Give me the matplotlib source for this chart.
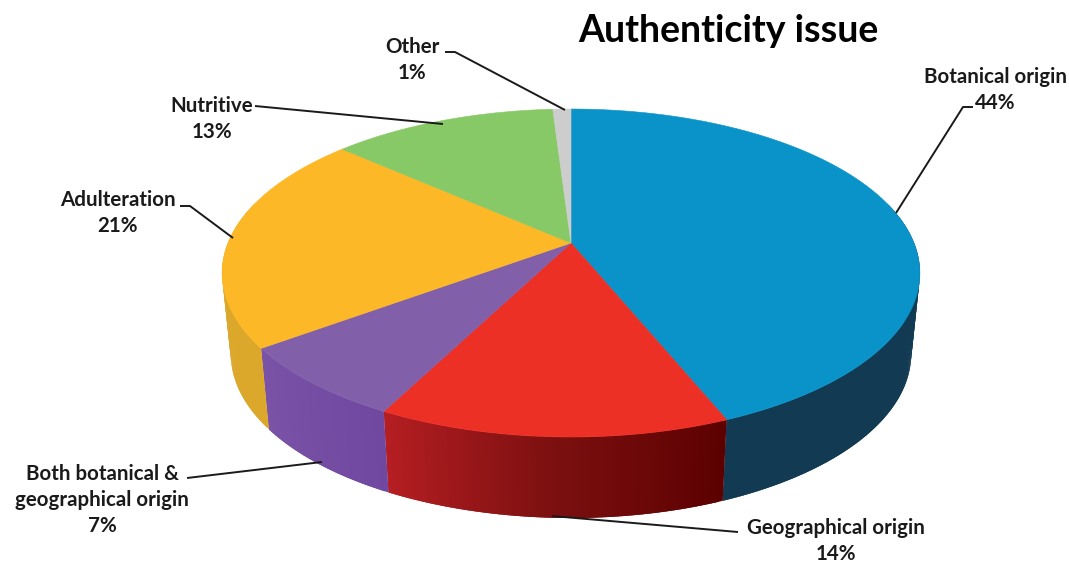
import numpy as np
import matplotlib
matplotlib.use("Agg")
from matplotlib import pyplot as plt
from matplotlib.colors import LinearSegmentedColormap
from matplotlib.patches import Polygon

labels = ["Botanical origin", "Geographical origin", "Both botanical &\ngeographical origin",
          "Adulteration", "Nutritive", "Other"]
percents = [44, 14, 7, 21, 13, 1]
# slice sizes as drawn in the picture, they differ a bit from the printed numbers
shares = [43.85, 13.7, 7.35, 21.65, 12.45, 1.0]

top_colors = ["#0a93c9", "#ec3026", "#8160a9", "#fdb827", "#87c966", "#cdcdcd"]
side_colors = [["#123a52", "#123a52"],
               ["#5c0000", "#7c1010", "#b51e22"],
               ["#7048a0", "#7a52a6"],
               ["#dca82c", "#dca82c"],
               ["#6ea050", "#6ea050"],
               ["#a0a0a0", "#a0a0a0"]]

# pixel layout of the tilted pie
CX, CY = 571, 243
A, B, K = 343, 158.5, 0.183
SHRINK, DEPTH = 0.975, 81


def project(theta):
    # clockwise angle from the top, perspective squeezes the far side
    u, v = np.sin(theta), np.cos(theta)
    d = 1 + K * v
    return CX + A * u / d, CY - B * v / d


def project_low(theta):
    x, y = project(theta)
    return CX + (x - CX) * SHRINK, y + DEPTH


fig, ax = plt.subplots(figsize=(10.69, 5.62), dpi=100)
ax.set_position([0, 0, 1, 1])
ax.set_xlim(0, 1069)
ax.set_ylim(562, 0)
ax.axis("off")

edges = np.cumsum([0] + shares) / sum(shares) * 2 * np.pi
vis_lo, vis_hi = np.radians(75), np.radians(285)

# walls first, strips overlap the next one so no seams show
for i in range(len(shares)):
    t0, t1 = max(edges[i], vis_lo), min(edges[i + 1], vis_hi)
    if t1 <= t0:
        continue
    cmap = LinearSegmentedColormap.from_list("side", side_colors[i])
    n = max(int((t1 - t0) / 0.01), 2)
    ts = np.linspace(t0, t1, n + 1)
    for j in range(n):
        seg = np.linspace(ts[j], min(ts[j + 1] + 0.012, t1), 4)
        xa, ya = project(seg)
        xb, yb = project_low(seg)
        pts = np.r_[np.c_[xa, ya], np.c_[xb, yb][::-1]]
        ax.add_patch(Polygon(pts, closed=True, facecolor=cmap(j / max(n - 1, 1)), edgecolor="none"))

# top face
for i in range(len(shares)):
    ts = np.linspace(edges[i], edges[i + 1], 200)
    x, y = project(ts)
    pts = np.r_[[[CX, CY]], np.c_[x, y]]
    ax.add_patch(Polygon(pts, closed=True, facecolor=top_colors[i], edgecolor=top_colors[i], lw=0.4))

font = dict(family=["Lato", "DejaVu Sans"], fontweight="bold", color="#1a1a1a",
            ha="center", va="center", linespacing=1.38)
label_pos = [(995, 90), (836, 541), (102, 500), (118, 213), (212, 119), (412, 60)]
leaders = [[(973, 107), (963, 107), (896, 213)],
           [(738, 532), (552, 516)],
           [(187, 478), (322, 462)],
           [(180, 206), (190, 206), (233, 238)],
           [(255, 106), (443, 124)],
           [(445, 52), (455, 52), (565, 110)]]

for name, val, pos, line in zip(labels, percents, label_pos, leaders):
    ax.text(pos[0], pos[1], f"{name}\n{val}%", fontsize=14.8, **font)
    xs, ys = zip(*line)
    ax.plot(xs, ys, color="#1a1a1a", lw=1.4, solid_capstyle="butt")

ax.text(728, 31, "Authenticity issue", fontsize=27, family=["Lato", "DejaVu Sans"],
        fontweight="bold", color="black", ha="center", va="center")

fig.savefig("out.png", dpi=100, facecolor="white")
